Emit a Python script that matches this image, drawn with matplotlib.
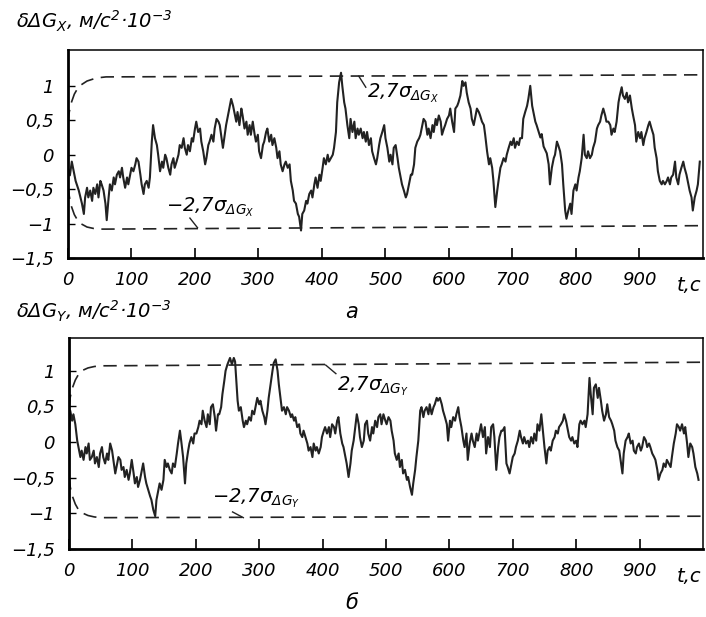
import matplotlib
matplotlib.use('Agg')
import matplotlib.pyplot as plt

plt.rcParams['font.family'] = ['DejaVu Sans']
plt.rcParams['font.style'] = 'italic'
plt.rcParams['mathtext.fontset'] = 'custom'
plt.rcParams['mathtext.it'] = 'DejaVu Sans:italic'
plt.rcParams['mathtext.rm'] = 'DejaVu Sans:italic'
plt.rcParams['mathtext.sf'] = 'DejaVu Sans:italic'

# panel a: error of dG_X, t in s
tx = [0, 3, 6, 9, 12, 17, 22, 25, 27, 30, 32, 35, 38, 40, 43, 46, 48, 51, 53, 56, 59, 61, 64, 66, 69, 72, 74, 77, 80, 82,
      85, 87, 90, 93, 95, 98, 100, 103, 106, 108, 111, 114, 116, 119, 121, 124, 127, 129, 132, 134, 137, 140, 142, 145,
      148, 150, 153, 155, 158, 161, 163, 166, 168, 171, 174, 176, 179, 182, 184, 187, 189, 192, 195, 197, 200, 202, 205,
      208, 210, 213, 216, 218, 221, 223, 226, 229, 231, 234, 237,
      239, 244, 249, 254, 257, 260, 262, 265, 267, 270, 273, 275, 278, 281, 283, 286, 288, 291, 294, 296, 299, 301, 304,
      307, 309, 312, 314, 317, 320, 322, 325, 328, 330, 333, 335, 338, 341, 343, 346, 349, 351, 354, 356, 359, 362, 364,
      367, 369, 372, 375, 377, 380, 383, 385, 388, 390, 393, 396, 398, 401, 403, 406, 409, 411, 414, 417, 419, 422, 424,
      427, 430, 432, 435, 437, 440, 443, 445, 448, 451, 453, 456, 458, 461, 464, 466, 469, 471, 474, 477, 479, 482, 485, 487,
      490, 492, 495, 498, 500, 503, 506, 508, 511, 513, 516, 519, 521, 524, 526, 529, 532, 534, 537, 540, 542, 545, 547,
      550, 553, 555, 558, 560, 563, 566, 568, 571, 574, 576, 579, 581, 584, 587, 589, 592, 594, 597, 600, 602, 605, 608,
      610, 613, 615, 618, 621, 623, 626, 628, 631, 634, 636, 639, 642, 644, 647, 649, 652, 655, 657, 660, 663, 665, 668,
      670, 673, 676, 678, 681, 683, 686, 689, 691, 694, 697, 699, 702, 704, 707, 710, 712, 715, 717, 720, 723, 725, 728,
      731, 733, 736, 738, 741,
      744, 746, 749, 751, 754, 757, 759, 762, 765, 767, 770, 772, 775, 778, 780, 783, 785, 788, 791, 793, 796, 799, 801,
      804, 806, 809, 812, 814, 817, 819, 822, 825, 827, 830, 833, 835, 838, 840, 843, 846, 848, 851, 854, 856, 859, 861,
      864, 867, 869, 872, 874, 877, 880, 882, 885, 888, 890, 893, 895, 898, 901, 903, 906, 908, 911, 914, 916, 919, 922,
      924, 927, 929, 932, 935, 937, 940, 943, 945, 948, 950, 953, 956, 958, 961, 963, 966, 969, 971, 974, 976, 979, 982,
      984, 987, 990, 992, 995]
gx = [-0.20, -0.30, -0.10, -0.24, -0.38, -0.52, -0.71, -0.86, -0.62, -0.48, -0.62, -0.52, -0.67, -0.48, -0.57, -0.43,
      -0.62, -0.38, -0.43, -0.52, -0.71, -0.95, -0.62, -0.43, -0.52, -0.33, -0.43, -0.29, -0.24, -0.33, -0.19, -0.33,
      -0.48, -0.33, -0.43, -0.29, -0.19, -0.24, -0.14, -0.05, -0.10, -0.29, -0.43, -0.57, -0.43, -0.38, -0.48, -0.33,
      0.19, 0.43, 0.24, 0.14, 0.00, -0.24, -0.10, -0.19, 0.00, -0.05, -0.19, -0.29, -0.14, -0.05, -0.19, -0.10, 0.00,
      0.14, 0.10, 0.24, 0.10, 0.00, 0.14, 0.05, 0.24, 0.19, 0.38, 0.48, 0.33, 0.38, 0.19, 0.05, -0.14, -0.05, 0.14, 0.19,
      0.29, 0.19, 0.38, 0.52, 0.48,
      0.43, 0.10, 0.43, 0.67, 0.81, 0.71, 0.62, 0.48, 0.62, 0.43, 0.67, 0.57, 0.38, 0.48, 0.29, 0.43, 0.29, 0.48, 0.29,
      0.19, 0.29, 0.05, -0.05, 0.14, 0.19, 0.33, 0.38, 0.19, 0.29, 0.14, 0.24, 0.10, -0.05, 0.05, -0.14, -0.24, -0.14,
      -0.10, -0.19, -0.14, -0.38, -0.52, -0.67, -0.71, -0.86, -0.90, -1.10, -0.86, -0.81, -0.67, -0.71, -0.57, -0.52,
      -0.62, -0.43, -0.33, -0.48, -0.29, -0.38, -0.19, -0.05, -0.14, 0.00, -0.10, -0.05, 0.00, 0.10, 0.33, 0.76, 1.05,
      1.19, 1.00, 0.76, 0.67, 0.43, 0.24, 0.52, 0.33, 0.48, 0.24, 0.38, 0.29, 0.38, 0.24, 0.33, 0.19, 0.33, 0.14, 0.24,
      0.05, -0.05, -0.14, -0.05,
      0.14, 0.24, 0.33, 0.43, 0.24, 0.10, -0.10, 0.00, -0.14, 0.10, 0.14, -0.05, -0.19, -0.33, -0.43, -0.52, -0.62, -0.57,
      -0.43, -0.29, -0.29, -0.14, 0.10, 0.19, 0.24, 0.29, 0.43, 0.52, 0.48, 0.29, 0.38, 0.24, 0.43, 0.33, 0.52, 0.43,
      0.57, 0.48, 0.29, 0.38, 0.43, 0.52, 0.57, 0.67, 0.48, 0.33, 0.67, 0.71, 0.76, 0.86, 1.07, 1.00, 1.05, 0.90, 0.76,
      0.67, 0.52, 0.43, 0.57, 0.67, 0.62, 0.57, 0.48, 0.43, 0.29, 0.05, -0.14, -0.05, -0.19, -0.38, -0.76, -0.52, -0.38,
      -0.19, -0.14, -0.05, -0.10, 0.00, 0.10, 0.19, 0.14, 0.24, 0.10, 0.19, 0.14, 0.24, 0.24, 0.52, 0.62, 0.71, 0.81,
      1.00, 0.71, 0.62, 0.48, 0.43, 0.34,
      0.25, 0.30, 0.12, 0.08, 0.02, -0.14, -0.43, -0.19, -0.05, 0.00, 0.19, 0.14, 0.05, -0.14, -0.43, -0.81, -0.93, -0.81,
      -0.71, -0.86, -0.52, -0.43, -0.52, -0.33, -0.24, -0.05, 0.29, 0.00, -0.05, 0.05, -0.05, 0.00, 0.10, 0.19, 0.38,
      0.43, 0.48, 0.57, 0.67, 0.57, 0.48, 0.48, 0.43, 0.29, 0.38, 0.33, 0.48, 0.76, 0.86, 0.98, 0.86, 0.81, 0.90, 0.76,
      0.86, 0.67, 0.57, 0.43, 0.19, 0.33, 0.24, 0.33, 0.14, 0.24, 0.33, 0.43, 0.48, 0.38, 0.29, 0.10, -0.05, -0.24,
      -0.38, -0.43, -0.38, -0.43, -0.38, -0.33, -0.43, -0.33, -0.29, -0.10, -0.33, -0.43, -0.29, -0.19, -0.10, -0.19,
      -0.29, -0.38, -0.52, -0.62, -0.81, -0.62, -0.52, -0.43, -0.10]

# panel b: error of dG_Y
ty = [0, 2, 5, 7, 10, 13, 15, 18, 20, 23, 26, 28, 31, 33, 36, 39, 41, 44, 47, 49, 52, 54, 57, 60, 62, 65, 68, 70, 73, 75,
      78, 81, 83, 86, 88, 91, 94, 96, 99, 102, 104, 107, 109, 112, 115, 117, 120, 122, 125, 128, 130, 133, 136, 138, 141,
      143, 146, 149, 151, 154, 156, 159, 162, 164, 167, 170, 172, 175, 177, 180, 183, 185, 188, 190, 193, 196, 198, 201,
      204, 206, 209, 211, 214, 217, 219, 222, 224, 227, 230, 232, 235,
      237, 240, 242, 245, 247, 250, 254, 257, 260, 262, 264, 266, 268, 271, 274, 276, 279, 281, 284, 287, 289, 292, 295,
      297, 300, 302, 305, 308, 310, 313, 315, 318, 321, 323, 326, 329, 331, 334, 336, 339, 342, 344, 347, 350, 352, 355,
      357, 360, 363, 365, 368, 370, 373, 376, 378, 381, 384, 386, 389, 391, 394, 397, 399, 402, 404, 407, 410, 412, 415,
      418, 420, 423, 425, 428, 431, 433, 436, 438, 441, 444, 446, 449, 452, 454, 457, 459, 462, 465, 467, 470, 472, 475,
      478, 480, 483, 486,
      488, 491, 493, 496, 499, 501, 504, 507, 509, 512, 514, 517, 520, 522, 525, 527, 530, 533, 535, 538, 541, 543, 546,
      548, 551, 554, 556, 559, 561, 564, 567, 569, 572, 575, 577, 580, 582, 585, 588, 590, 593, 596, 598, 601, 603, 606,
      609, 611, 614, 616, 619, 622, 624, 627, 629, 632, 635, 637, 640, 643, 645, 648, 650, 653, 656, 658, 661, 664, 666,
      669, 671, 674, 677, 679, 682, 684, 687, 690, 692, 695, 698, 700, 703, 705, 708, 711, 713, 716, 718, 721, 724, 726,
      729, 732, 734, 737,
      739, 742, 745, 747, 750, 753, 755, 758, 760, 763, 766, 768, 771, 773, 776, 779, 781, 784, 787, 789, 792, 794, 797,
      800, 802, 805, 807, 810, 813, 815, 818, 821, 823, 826, 828, 831, 834, 836, 839, 841, 844, 847, 849, 852, 855, 857,
      860, 862, 865, 868, 870, 873, 875, 878, 881, 883, 886, 889, 891, 894, 896, 899, 902, 904, 907, 910, 912, 915, 917,
      920, 923, 925, 928, 930, 933, 936, 938, 941, 943, 946, 949, 951, 954, 957, 959, 962, 964, 967, 970, 972, 975, 977,
      980, 983, 985, 988, 991, 993]
gy = [0.15, 0.44, 0.30, 0.39, 0.25, 0.02, -0.07, -0.21, -0.12, -0.25, -0.07, -0.16, -0.02, -0.25, -0.21, -0.12, -0.30,
      -0.21, -0.35, -0.16, -0.07, -0.21, -0.30, -0.16, -0.25, -0.02, -0.12, -0.25, -0.44, -0.35, -0.21, -0.25, -0.39,
      -0.35, -0.49, -0.39, -0.53, -0.44, -0.25, -0.44, -0.58, -0.49, -0.63, -0.53, -0.39, -0.30, -0.49, -0.58, -0.67,
      -0.76, -0.81, -0.95, -1.04, -0.81, -0.67, -0.58, -0.67, -0.53, -0.25, -0.35, -0.30, -0.39, -0.44, -0.30, -0.35,
      -0.16, -0.02, 0.16, 0.02, -0.21, -0.58, -0.30, -0.12, -0.02, 0.07, -0.02, 0.12, 0.12, 0.21, 0.30, 0.25, 0.44, 0.30,
      0.21, 0.39, 0.25, 0.49, 0.53, 0.35, 0.16, 0.39,
      0.39, 0.49, 0.67, 0.86, 1.00, 1.09, 1.18, 1.09, 1.18, 1.13, 0.86, 0.58, 0.44, 0.49, 0.30, 0.21, 0.30, 0.25, 0.35,
      0.30, 0.44, 0.39, 0.53, 0.62, 0.53, 0.58, 0.44, 0.35, 0.25, 0.44, 0.62, 0.81, 1.00, 1.11, 1.16, 1.00, 0.81, 0.58,
      0.44, 0.49, 0.39, 0.49, 0.44, 0.35, 0.39, 0.30, 0.35, 0.21, 0.25, 0.12, 0.07, 0.16, 0.07, -0.02, -0.12, -0.07,
      -0.21, -0.02, -0.12, -0.07, -0.16, -0.07, 0.07, 0.16, 0.21, 0.12, 0.21, 0.07, 0.25, 0.21, 0.12, 0.30, 0.35, 0.12,
      -0.02, -0.07, -0.21, -0.30, -0.49, -0.30, -0.12, 0.02, 0.25, 0.39, 0.25, 0.07, -0.07, 0.02, 0.25, 0.30, 0.12, 0.02,
      0.21, 0.12, 0.30, 0.21,
      0.35, 0.39, 0.25, 0.39, 0.30, 0.25, 0.35, 0.30, 0.16, 0.02, -0.16, -0.25, -0.16, -0.35, -0.25, -0.44, -0.39, -0.53,
      -0.49, -0.63, -0.74, -0.58, -0.39, -0.21, 0.02, 0.44, 0.49, 0.35, 0.44, 0.49, 0.39, 0.53, 0.39, 0.49, 0.53, 0.62,
      0.58, 0.62, 0.53, 0.44, 0.35, 0.25, 0.02, 0.30, 0.21, 0.35, 0.30, 0.39, 0.49, 0.35, 0.21, 0.02, -0.07, 0.12, -0.25,
      -0.02, 0.12, 0.02, -0.07, 0.12, 0.02, 0.16, 0.25, 0.07, 0.21, -0.16, 0.07, -0.07, 0.21, 0.25, 0.07, -0.39, -0.07,
      0.07, 0.16, 0.16, 0.21, -0.30, -0.35, -0.44, -0.30, -0.21, -0.16, -0.07, 0.02, 0.16, 0.07, -0.02, 0.07, -0.02, 0.02,
      -0.07, 0.07, -0.02, 0.12, 0.02,
      0.25, 0.16, 0.39, 0.21, -0.07, -0.30, -0.12, -0.07, -0.12, 0.02, 0.07, 0.16, 0.12, 0.21, 0.25, 0.30, 0.39, 0.30,
      0.16, 0.07, 0.02, 0.07, -0.02, 0.02, -0.07, 0.25, 0.30, 0.25, 0.30, 0.21, 0.39, 0.90, 0.67, 0.39, 0.76, 0.81, 0.62,
      0.76, 0.58, 0.44, 0.30, 0.39, 0.53, 0.35, 0.30, 0.25, 0.16, 0.02, -0.07, -0.12, -0.25, -0.44, -0.16, 0.02, 0.07,
      0.12, -0.02, 0.02, -0.12, -0.16, -0.07, -0.02, -0.12, -0.07, 0.07, 0.02, -0.07, -0.02, -0.07, -0.16, -0.21, -0.25,
      -0.39, -0.53, -0.44, -0.39, -0.30, -0.35, -0.25, -0.30, -0.35, -0.21, -0.02, 0.12, 0.25, 0.21, 0.16, 0.25, 0.12,
      0.21, -0.02, -0.21, -0.02, -0.07, -0.16, -0.35, -0.44, -0.53]

# 2.7 sigma bounds
tb = [0, 2, 5, 10, 15, 20, 30, 40, 50, 60, 1000]
bx_up = [0.46, 0.62, 0.75, 0.88, 0.96, 1.01, 1.07, 1.10, 1.12, 1.13, 1.16]
bx_lo = [-0.45, -0.60, -0.74, -0.87, -0.95, -1.00, -1.05, -1.07, -1.08, -1.08, -1.03]
by_up = [0.48, 0.63, 0.75, 0.87, 0.95, 1.00, 1.04, 1.06, 1.07, 1.07, 1.12]
by_lo = [-0.48, -0.63, -0.75, -0.87, -0.95, -0.99, -1.03, -1.05, -1.06, -1.06, -1.04]

xticks = [0, 100, 200, 300, 400, 500, 600, 700, 800, 900]
yticks = [-1.5, -1, -0.5, 0, 0.5, 1]
yticklabels = ['\u22121,5', '\u22121', '\u22120,5', '0', '0,5', '1']

fig = plt.figure(figsize=(7.06, 6.17), dpi=100)
ax1 = fig.add_axes([0.0963, 0.5818, 0.8994, 0.3371])
ax2 = fig.add_axes([0.0977, 0.1102, 0.8980, 0.3420])

dash = (0, (8, 4.5))
for ax, t, g, up, lo, ylim in [(ax1, tx, gx, bx_up, bx_lo, (-1.47, 1.52)),
                               (ax2, ty, gy, by_up, by_lo, (-1.47, 1.46))]:
  ax.plot(t, g, color='#222222', lw=1.5)
  ax.plot(tb, up, color='#222222', lw=1.2, linestyle=dash)
  ax.plot(tb, lo, color='#222222', lw=1.2, linestyle=dash)
  ax.set_xlim(0, 1000)
  ax.set_ylim(*ylim)
  ax.set_xticks(xticks)
  ax.set_xticklabels([str(v) for v in xticks])
  ax.set_yticks(yticks)
  ax.set_yticklabels(yticklabels)
  ax.tick_params(axis='x', direction='in', length=7, width=1.2, pad=9, labelsize=13)
  ax.tick_params(axis='y', direction='in', length=5, width=1.0, pad=10, labelsize=13)
  for side in ['left', 'bottom']:
    ax.spines[side].set_linewidth(2.0)
  for side in ['top', 'right']:
    ax.spines[side].set_linewidth(1.1)
  ax.text(0.997, -0.13, 't,c', transform=ax.transAxes, fontsize=14, va='center', ha='right')

fig.text(0.022, 0.965, r'$\delta\Delta G_X$, м/с$^2$·10$^{-3}$', fontsize=14, va='center')
fig.text(0.022, 0.496, r'$\delta\Delta G_Y$, м/с$^2$·10$^{-3}$', fontsize=14, va='center')

ax1.text(471, 0.9, r'2,7$\sigma_{\Delta G_X}$', fontsize=14, va='center')
ax1.plot([458, 469], [1.14, 0.98], color='#222222', lw=1.0)
ax1.text(155, -0.76, r'$-$2,7$\sigma_{\Delta G_X}$', fontsize=14, va='center')
ax1.plot([192, 204], [-0.92, -1.06], color='#222222', lw=1.0)

ax2.text(422, 0.78, r'2,7$\sigma_{\Delta G_Y}$', fontsize=14, va='center')
ax2.plot([405, 421], [1.08, 0.96], color='#222222', lw=1.0)
ax2.text(226, -0.79, r'$-$2,7$\sigma_{\Delta G_Y}$', fontsize=14, va='center')
ax2.plot([258, 275], [-0.98, -1.06], color='#222222', lw=1.0)

fig.text(0.4986, 0.494, 'а', fontsize=15, ha='center', va='center')
fig.text(0.4986, 0.023, 'б', fontsize=15, ha='center', va='center')

fig.savefig('out.png', dpi=100)
